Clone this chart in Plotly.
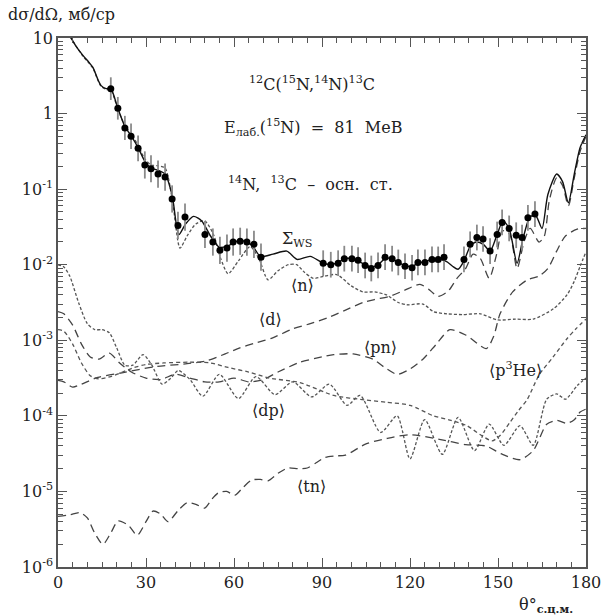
import plotly.graph_objects as go

# ---------------- data (log10 of dσ/dΩ in mb/sr) --------------
theta_exp = [18.0, 20.4, 22.8, 24.9, 27.3, 29.6, 31.7, 34.1, 36.5, 38.9, 40.9, 43.3, 50.1, 52.8,
             55.2, 57.6, 59.7, 62.1, 64.4, 66.8, 69.2, 90.4, 93.0, 95.5, 97.6, 100.2, 102.3, 104.7,
             106.8, 109.1, 111.5, 113.9, 116.0, 118.3, 120.7, 122.7, 125.1, 127.5, 129.6, 131.6,
             138.4, 140.5, 142.8, 144.9, 147.3, 149.7, 151.4, 153.8, 156.2, 158.2, 160.2, 162.6]
lg_exp = [0.33, 0.07, -0.19, -0.30, -0.46, -0.68, -0.73, -0.80, -0.84, -1.13, -1.48, -1.37, -1.60, -1.70,
          -1.81, -1.78, -1.70, -1.69, -1.70, -1.73, -1.90, -1.98, -2.00, -1.98, -1.92, -1.92, -1.94, -2.01,
          -2.05, -2.01, -1.90, -1.92, -1.97, -2.02, -2.04, -1.97, -1.97, -1.93, -1.93, -1.90,
          -1.93, -1.73, -1.64, -1.66, -1.82, -1.60, -1.44, -1.52, -1.61, -1.64, -1.38, -1.33]
err_exp_dex = [0.15, 0.15, 0.16, 0.17, 0.17, 0.18, 0.18, 0.18, 0.18, 0.18, 0.18, 0.18, 0.18, 0.18,
               0.18, 0.18, 0.18, 0.18, 0.18, 0.18, 0.18, 0.17, 0.17, 0.17, 0.17, 0.17, 0.17, 0.17,
               0.17, 0.17, 0.17, 0.17, 0.17, 0.17, 0.17, 0.17, 0.17, 0.17, 0.17, 0.17,
               0.17, 0.17, 0.17, 0.17, 0.17, 0.17, 0.17, 0.17, 0.17, 0.17, 0.17, 0.17]

sig_t = [4.2, 6, 8.5, 10.5, 11.9, 13.6, 14.7, 16.4, 18, 20.4, 22.8, 25, 27.3, 29.6, 31.7, 34, 36.5, 38.9,
         41.2, 43.5, 46.2, 49, 52, 55, 58, 61, 64, 66.5, 69, 73.3, 78, 81.5, 86, 90.4, 93, 95.5, 97.6,
         100.2, 102.3, 104.7, 106.8, 109.1, 111.5, 113.9, 116, 118.3, 120.7, 122.7, 125.1, 127.5, 130,
         132.5, 134.5, 136.4, 138.4, 140.5, 142.5, 145, 147.3, 149.7, 151.7, 153.8, 156.5, 158.5, 161,
         163, 165, 167, 170, 172, 174, 176, 178, 180]
sig_l = [1.02, 0.90, 0.77, 0.68, 0.61, 0.45, 0.37, 0.33, 0.33, 0.07, -0.17, -0.30, -0.45, -0.63, -0.72,
         -0.75, -0.80, -1.08, -1.60, -1.46, -1.36, -1.42, -1.62, -1.77, -1.75, -1.69, -1.69, -1.76, -1.89,
         -1.86, -1.82, -1.93, -1.89, -1.98, -2.00, -1.97, -1.92, -1.92, -1.95, -2.00, -2.03, -2.00, -1.92,
         -1.92, -1.97, -2.01, -2.02, -1.98, -1.96, -1.93, -1.93, -1.96, -2.02, -2.06, -1.95, -1.76, -1.70,
         -1.73, -1.82, -1.60, -1.42, -1.52, -1.98, -1.66, -1.36, -1.36, -1.52, -1.07, -0.80, -0.90, -1.18,
         -0.80, -0.45, -0.28]

n_t = [4.2, 8.5, 11.9, 13.6, 14.7, 16.4, 18, 20.4, 22.8, 25, 27.3, 29.6, 31.7, 34, 36.5, 38.9, 41.6, 44,
       47, 50, 53, 55.5, 58, 61.5, 65.5, 68.5, 71.6, 75, 78.5, 81.4, 84, 87, 91, 95, 100, 104, 108, 112,
       116, 119, 124.4, 128, 132.6, 138, 144, 149.7, 156, 162, 169, 173.5, 176, 178, 180]
n_l = [1.01, 0.76, 0.60, 0.44, 0.36, 0.32, 0.31, 0.06, -0.16, -0.27, -0.42, -0.60, -0.68, -0.69, -0.72,
       -1.12, -1.78, -1.62, -1.46, -1.42, -1.60, -1.92, -2.12, -1.95, -1.76, -1.92, -2.20, -2.08, -2.00,
       -2.00, -2.10, -2.18, -2.15, -2.13, -2.28, -2.36, -2.36, -2.40, -2.50, -2.53, -2.52, -2.62, -2.65,
       -2.66, -2.65, -2.73, -2.72, -2.72, -2.58, -2.40, -2.22, -2.02, -1.83]

d_t = [0, 2, 5, 8, 13.6, 21.8, 33, 44, 50.8, 57, 62, 67, 73, 80, 86, 92.7, 98, 104, 108, 113, 118,
       123.4, 126.5, 129.6, 133, 136, 139, 141.5, 144, 147, 149.6, 151.5, 154, 156.5, 159, 161, 164,
       165.8, 167.5, 170, 172, 174, 176, 178, 180]
d_l = [-3.53, -3.55, -3.62, -3.58, -3.49, -3.43, -3.35, -3.31, -3.27, -3.18, -3.10, -3.04, -2.97, -2.85,
       -2.78, -2.69, -2.60, -2.50, -2.46, -2.42, -2.34, -2.26, -2.33, -2.42, -2.35, -2.18, -2.05, -1.86,
       -1.92, -2.18, -1.85, -1.55, -1.60, -2.05, -1.68, -1.52, -1.70, -1.62, -1.15, -0.85, -0.95, -1.22,
       -0.85, -0.50, -0.30]

pn_t = [0, 2, 5, 8, 11, 14, 17.5, 21, 25, 30, 35, 40, 45, 50, 55, 60, 65, 70, 75, 82.5, 90, 94, 100.6,
        107.4, 111, 115.6, 120, 124.4, 129, 133.6, 139, 146, 148.5, 150.7, 155, 160, 164, 167, 170, 173,
        177, 180]
pn_l = [-2.62, -2.65, -2.80, -3.05, -3.22, -3.25, -3.17, -3.30, -3.42, -3.50, -3.52, -3.45, -3.50, -3.55,
        -3.55, -3.50, -3.55, -3.52, -3.42, -3.29, -3.22, -3.19, -3.18, -3.25, -3.35, -3.45, -3.38, -3.25,
        -3.05, -2.86, -2.93, -3.11, -2.95, -2.65, -2.36, -2.20, -2.15, -2.05, -1.82, -1.62, -1.53, -1.52]

ph_t = [0, 2, 5, 8, 11, 14, 18, 22, 26, 30, 36, 45, 52, 58, 65, 72, 82.5, 94, 105, 112, 120, 128, 134,
        139.4, 144, 148, 150.7, 154, 157, 160, 164, 168.8, 173.5, 176.5, 180]
ph_l = [-2.86, -2.88, -3.05, -3.30, -3.47, -3.51, -3.48, -3.42, -3.36, -3.32, -3.30, -3.29, -3.30, -3.36,
        -3.42, -3.50, -3.56, -3.73, -3.79, -3.82, -3.86, -4.00, -4.06, -4.13, -4.25, -4.33, -4.26, -4.09,
        -3.93, -3.78, -3.46, -3.22, -2.98, -2.85, -2.72]

dp_t = [0, 2, 4, 7, 10, 12.6, 15, 17.5, 20, 22.8, 25.5, 29, 32, 35.5, 38.5, 41, 45, 49.4, 55, 61.5,
        67.5, 74, 80, 86.5, 92.5, 98.5, 103, 110, 115.6, 120, 125, 131, 136.4, 142, 147, 152, 157.5,
        162, 166.6, 170, 173, 177, 180]
dp_l = [-2.00, -2.03, -2.15, -2.50, -2.78, -2.86, -2.86, -2.90, -3.10, -3.33, -3.33, -3.19, -3.33, -3.58,
        -3.50, -3.40, -3.52, -3.74, -3.45, -3.77, -3.48, -3.72, -3.55, -3.75, -3.58, -3.86, -3.73, -4.22,
        -4.00, -4.57, -4.05, -4.51, -4.02, -4.46, -4.11, -4.39, -4.13, -4.39, -3.78, -3.71, -3.78, -3.60,
        -3.50]

tn_t = [0, 4, 7.5, 10, 12.5, 15.3, 18, 20.5, 24, 27, 30, 32.4, 35, 37.5, 41, 44, 47, 50, 52.5, 54.6,
        57.5, 60.3, 63, 66, 69, 71.6, 75, 78.4, 82, 85, 88, 91, 94.5, 98, 105, 112, 120, 130, 139, 146,
        151, 157.5, 162, 164, 166.6, 170, 173.5, 176, 178, 180]
tn_l = [-5.33, -5.31, -5.28, -5.35, -5.55, -5.70, -5.55, -5.39, -5.45, -5.58, -5.40, -5.26, -5.30, -5.40,
        -5.25, -5.15, -5.17, -5.22, -5.10, -5.02, -5.00, -5.05, -4.95, -4.85, -4.84, -4.86, -4.76, -4.69,
        -4.70, -4.69, -4.62, -4.55, -4.53, -4.52, -4.37, -4.30, -4.25, -4.31, -4.38, -4.40, -4.50, -4.58,
        -4.46, -4.31, -4.11, -4.06, -4.10, -4.05, -3.95, -3.91]

y_tick_vals = [10, 1, 1e-1, 1e-2, 1e-3, 1e-4, 1e-5, 1e-6]
y_tick_text = ["10", "1", "10<sup>-1</sup>", "10<sup>-2</sup>", "10<sup>-3</sup>",
               "10<sup>-4</sup>", "10<sup>-5</sup>", "10<sup>-6</sup>"]
x_tick_vals = [0, 30, 60, 90, 120, 150, 180]


def lin(v):
    return [10 ** a for a in v]


FONT = "DejaVu Serif"
fig = go.Figure()

curves = [
    (n_t, n_l, "⟨n⟩", "3px,2px", "#555"),
    (d_t, d_l, "⟨d⟩", "8px,5px", "#444"),
    (pn_t, pn_l, "⟨pn⟩", "8px,5px", "#444"),
    (ph_t, ph_l, "⟨p³He⟩", "4px,3px", "#555"),
    (dp_t, dp_l, "⟨dp⟩", "3px,2px", "#555"),
    (tn_t, tn_l, "⟨tn⟩", "8px,5px", "#444"),
]
for t, l, name, dash, col in curves:
    fig.add_trace(go.Scatter(x=t, y=lin(l), mode="lines", name=name,
                             line=dict(color=col, width=1.3, dash=dash, shape="spline", smoothing=0.7)))

fig.add_trace(go.Scatter(x=sig_t, y=lin(sig_l), mode="lines", name="Σ",
                         line=dict(color="#111", width=1.4, shape="spline", smoothing=0.7)))

y_exp = lin(lg_exp)
err_up = [y * (10 ** e - 1) for y, e in zip(y_exp, err_exp_dex)]
err_dn = [y * (1 - 10 ** (-e)) for y, e in zip(y_exp, err_exp_dex)]
fig.add_trace(go.Scatter(x=theta_exp, y=y_exp, mode="markers", name="exp",
                         marker=dict(color="black", size=7),
                         error_y=dict(type="data", symmetric=False, array=err_up, arrayminus=err_dn,
                                      color="#8a8a8a", thickness=1.8, width=0)))

minor_y = [m * 10 ** e for e in range(-6, 1) for m in range(2, 10)]
axcol = "#555"
fig.update_xaxes(range=[0, 180], tickvals=x_tick_vals, ticks="inside", ticklen=9, tickwidth=1.3,
                 tickcolor=axcol, showline=True, linecolor=axcol, linewidth=1.5, mirror="allticks",
                 showgrid=False, zeroline=False, automargin=False,
                 minor=dict(dtick=5, ticks="inside", ticklen=5, tickcolor=axcol, tickwidth=1.2),
                 tickfont=dict(family=FONT, size=16, color="#222"))
fig.update_yaxes(type="log", range=[-6, 1], tickvals=y_tick_vals, ticktext=y_tick_text,
                 ticks="inside", ticklen=9, tickwidth=1.3, tickcolor=axcol, showline=True,
                 linecolor=axcol, linewidth=1.5, mirror="allticks", showgrid=False, zeroline=False,
                 automargin=False,
                 minor=dict(tickvals=minor_y, ticks="inside", ticklen=5, tickcolor=axcol, tickwidth=1.2),
                 tickfont=dict(family=FONT, size=16, color="#222"))

ann_font = dict(family=FONT, size=16, color="#222")
anns = [
    (86.6, 0.40, "<sup>12</sup>C(<sup>15</sup>N,<sup>14</sup>N)<sup>13</sup>C"),
    (87.0, -0.18, "E<sub>лаб.</sub>(<sup>15</sup>N)  =  81  МеВ"),
    (86.0, -0.92, "<sup>14</sup>N,  <sup>13</sup>C  –  осн.  ст."),
    (81.5, -1.67, "Σ<sub>WS</sub>"),
    (83.5, -2.27, "⟨n⟩"),
    (72.3, -2.73, "⟨d⟩"),
    (109.8, -3.09, "⟨pn⟩"),
    (156.0, -3.38, "⟨p<sup>3</sup>He⟩"),
    (71.6, -3.93, "⟨dp⟩"),
    (86.5, -4.93, "⟨tn⟩"),
]
for x, y, txt in anns:
    fig.add_annotation(x=x, y=y, xref="x", yref="y", text=txt, showarrow=False, font=ann_font)

fig.add_annotation(x=-0.098, y=1.044, xref="paper", yref="paper", xanchor="left", yanchor="middle",
                   text="dσ/dΩ, мб/ср", showarrow=False, font=dict(family=FONT, size=16, color="#222"))
fig.add_annotation(x=0.925, y=-0.072, xref="paper", yref="paper", xanchor="center", yanchor="middle",
                   text="θ°<sub><b>с.ц.м.</b></sub>", showarrow=False,
                   font=dict(family=FONT, size=16, color="#222"))

fig.update_layout(width=602, height=616, margin=dict(l=58, r=16, t=38, b=49),
                  plot_bgcolor="white", paper_bgcolor="white", showlegend=False)

# remove the default 8 px page margin so the figure sits at the window's top-left corner
fig.write_html("out.html", config={"displayModeBar": False},
               post_script="document.body.style.margin='0px';document.body.style.overflow='hidden';")
